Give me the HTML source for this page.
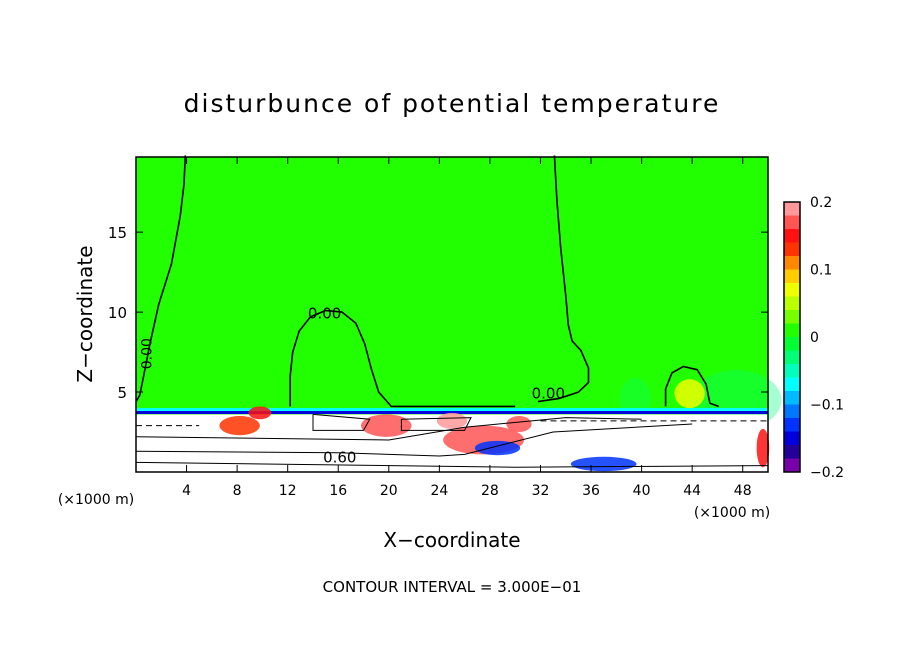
<!DOCTYPE html>
<html><head><meta charset="utf-8"><style>
body{margin:0;background:#fff;}
svg text{font-family:"DejaVu Sans","Liberation Sans",sans-serif;fill:#000;}
</style></head><body>
<svg id="chart" width="904" height="654" viewBox="0 0 904 654" xmlns="http://www.w3.org/2000/svg">
<rect width="904" height="654" fill="#fff"/>
<text x="452" y="112" font-size="25" text-anchor="middle" letter-spacing="2">disturbunce of potential temperature</text>
<g id="plot"></g>
<g id="cbar"></g>
<g id="axes"></g>
<text x="452" y="547" font-size="20" text-anchor="middle">X−coordinate</text>
<text transform="translate(92,314) rotate(-90)" font-size="20" text-anchor="middle">Z−coordinate</text>
<text x="96" y="504" font-size="14" text-anchor="middle">(×1000 m)</text>
<text x="732" y="517" font-size="14" text-anchor="middle">(×1000 m)</text>
<text x="452" y="592" font-size="15" text-anchor="middle">CONTOUR INTERVAL = 3.000E−01</text>
</svg>
<script>
const xTicks=[4,8,12,16,20,24,28,32,36,40,44,48];
const yTicks=[5,10,15];
const cbarLevels=[0.2,0.18,0.16,0.14,0.12,0.1,0.08,0.06,0.04,0.02,0,-0.02,-0.04,-0.06,-0.08,-0.1,-0.12,-0.14,-0.16,-0.18,-0.2];
const cbarColors=["#ff9999","#ff5555","#ff1111","#ff3300","#ff8800","#ffcc00","#eeff00","#bbff00","#77ff00","#22ff00","#00ff33","#00ff77","#00ffbb","#00ffff","#00bbff","#0077ff","#0033ff","#0000dd","#220099","#7700aa"];
const cbarTickVals=[0.2,0.1,0,-0.1,-0.2];
const cbarTickLabels=["0.2","0.1","0","−0.1","−0.2"];
// zero contour lines (x in km, z in km)
const zeroLeft=[[3.9,19.8],[3.8,18],[3.5,16],[2.8,13],[1.8,10.5],[1.1,8],[0.6,6],[0.3,4.8],[0,4.4]];
const zeroBump=[[12.2,4.1],[12.2,6],[12.4,7.5],[12.9,8.8],[13.8,9.7],[15,10.1],[16.3,10],[17.4,9.3],[18.1,8],[18.6,6.5],[19.2,5],[20.2,4.1],[30,4.1]];
const zeroRight=[[33.1,19.8],[33.3,17],[33.6,14],[34.0,11],[34.2,9.2],[34.5,8.2],[35.2,7.6],[35.8,6.5],[35.8,5.6],[35,5.0],[33.5,4.6],[31.8,4.4]];
const zeroHill=[[41.9,4.1],[41.9,5.2],[42.4,6.2],[43.3,6.6],[44.4,6.4],[45.1,5.5],[45.4,4.3],[46.1,4.1]];
// coloured anomaly blobs: [x, z, rx, rz, colour]
const blobX=[8.2,19.8,27.5,28.6,37.0,43.8,9.8,30.3,49.6,25.0];
const blobZ=[2.9,2.9,2.0,1.5,0.5,4.9,3.7,3.0,1.5,3.2];
const blobRX=[1.6,2.0,3.2,1.8,2.6,1.2,0.9,1.0,0.5,1.2];
const blobRZ=[0.6,0.7,0.9,0.45,0.45,0.9,0.4,0.5,1.2,0.5];
const blobC=["#ff3300","#ff5555","#ff5555","#0033ff","#0033ff","#eeff00","#ff1111","#ff5555","#ff1111","#ff9999"];
// white-region contour lines
const lineA=[[0,1.3],[16,1.2],[24,1.0],[26,1.1],[33,2.5],[44,3.0]];
const lineB=[[0,2.2],[20,2.0],[26,2.8],[34,3.4],[40,3.3]];
const lineC=[[0,0.6],[30,0.3],[50,0.4]];
const lineD=[[14,3.6],[14,2.6],[18,2.6],[18.5,3.3],[14,3.6]];
const lineE=[[21,3.3],[21,2.6],[26,2.6],[26.5,3.4],[21,3.3]];

const X0=136,X1=768,Y0=472,Y1=157,XMAX=50,ZMAX=19.7;
const sx=x=>X0+x*(X1-X0)/XMAX, sy=z=>Y0-z*(Y0-Y1)/ZMAX;
const NS="http://www.w3.org/2000/svg";
function mk(p,t,a){const e=document.createElementNS(NS,t);for(const k in a)e.setAttribute(k,a[k]);p.appendChild(e);return e;}
const plot=document.getElementById('plot'),axes=document.getElementById('axes'),cb=document.getElementById('cbar');
const pathOf=pts=>pts.map((p,i)=>(i?'L':'M')+sx(p[0]).toFixed(1)+' '+sy(p[1]).toFixed(1)).join(' ');

let r=mk(plot,'rect',{x:X0,y:Y1,width:X1-X0,height:Y0-Y1,fill:'#22ff00'});

r=mk(plot,'ellipse',{cx:sx(47.5),cy:sy(4.5),rx:45,ry:30,fill:'#00ff77',opacity:0.35});

r=mk(plot,'ellipse',{cx:sx(39.5),cy:sy(4.5),rx:16,ry:22,fill:'#00ff77',opacity:0.3});

r=mk(plot,'rect',{x:X0,y:sy(4.0),width:X1-X0,height:4,fill:'#00ffff'});

r=mk(plot,'rect',{x:X0,y:sy(4.0)+3,width:X1-X0,height:3,fill:'#0000dd'});

r=mk(plot,'rect',{x:X0,y:sy(3.6),width:X1-X0,height:Y0-sy(3.6),fill:'#fff'});

for(let i=0;i<blobX.length;i++){
  const e=mk(plot,'ellipse',{cx:sx(blobX[i]),cy:sy(blobZ[i]),rx:blobRX[i]*(X1-X0)/XMAX,ry:blobRZ[i]*(Y0-Y1)/ZMAX,fill:blobC[i],opacity:0.85});
  
  
}
for(const pts of [lineA,lineB,lineC,lineD,lineE]){
  const e=mk(plot,'path',{d:pathOf(pts),fill:'none',stroke:'#000','stroke-width':1});
  
  
}
for(const pts of [zeroLeft,zeroBump,zeroRight,zeroHill]){
  const e=mk(plot,'path',{d:pathOf(pts),fill:'none',stroke:'#000','stroke-width':1.6,'stroke-linejoin':'round'});
  
  
}
const dash=mk(plot,'path',{d:`M${sx(0)} ${sy(2.9)} H${sx(5)} M${sx(32)} ${sy(3.2)} H${sx(50)}`,stroke:'#000','stroke-dasharray':'6 4',fill:'none'});

const labs=[[13.6,9.6,'0.00'],[31.3,4.6,'0.00'],[14.8,0.6,'0.60']];
for(const l of labs){
  const t=mk(plot,'text',{x:sx(l[0]),y:sy(l[1]),'font-size':15});t.textContent=l[2];
  
}
const vt=mk(plot,'text',{transform:`translate(${sx(0.2)+13},${sy(7.4)}) rotate(-90)`,'font-size':14,'text-anchor':'middle'});
vt.textContent='0.00';
r=mk(axes,'rect',{x:X0,y:Y1,width:X1-X0,height:Y0-Y1,fill:'none',stroke:'#000','stroke-width':1.5});

for(const v of xTicks){
  const l=mk(axes,'path',{d:`M${sx(v)} ${Y0} v-7 M${sx(v)} ${Y1} v7`,stroke:'#000'});
  
  const t=mk(axes,'text',{x:sx(v),y:495,'font-size':14,'text-anchor':'middle'});t.textContent=v;
  
}
for(const v of yTicks){
  const l=mk(axes,'path',{d:`M${X0} ${sy(v)} h7 M${X1} ${sy(v)} h-7`,stroke:'#000'});
  
  const t=mk(axes,'text',{x:127,y:sy(v)+6,'font-size':15,'text-anchor':'end'});t.textContent=v;
  
}
const CB0=202,CB1=472,cby=v=>CB0+(0.2-v)/0.4*(CB1-CB0);
for(let i=0;i<cbarColors.length;i++){
  const y=cby(cbarLevels[i]),h=cby(cbarLevels[i+1])-y;
  const e=mk(cb,'rect',{x:784,y:y,width:16,height:h+0.5,fill:cbarColors[i]});
  
  
}
r=mk(cb,'rect',{x:784,y:CB0,width:16,height:CB1-CB0,fill:'none',stroke:'#000','stroke-width':1.5});

for(let i=0;i<cbarTickVals.length;i++){
  const t=mk(cb,'text',{x:810,y:cby(cbarTickVals[i])+5,'font-size':14});t.textContent=cbarTickLabels[i];
  
}
</script>
</body></html>
